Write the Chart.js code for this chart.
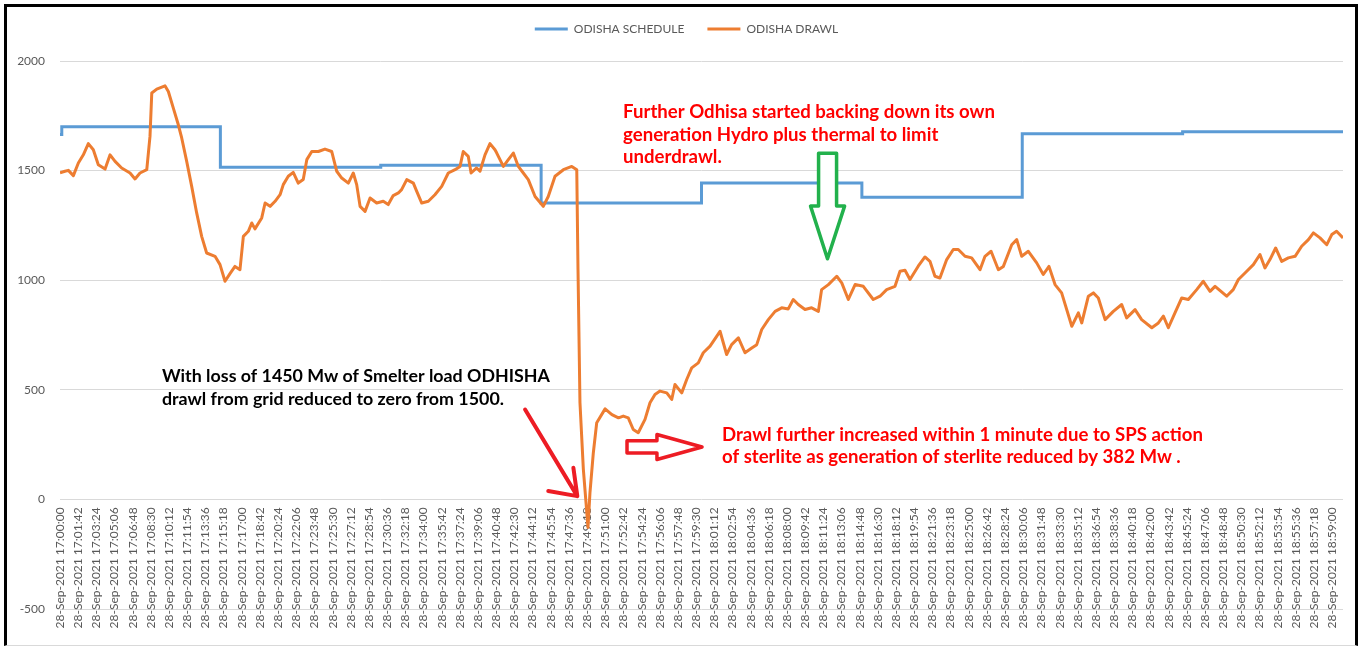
<!DOCTYPE html>
<html>
<head>
<meta charset="utf-8">
<title>Odisha schedule x drawl</title>
<script src="https://cdn.jsdelivr.net/npm/chart.js@4.4.0/dist/chart.umd.min.js"></script>
<style>
    html, body { margin: 0; padding: 0; background: #fff; }
    #wrap { position: relative; width: 1365px; height: 647px; }
    #grafico { position: absolute; left: 0; top: 0; }
    #frame { position: absolute; left: 4px; top: 4px; width: 1354px; height: 642px; box-sizing: border-box;
             border: 3px solid #000; border-bottom: 1px solid #d9d9d9; pointer-events: none; }
</style>
</head>
<body>
<div id="wrap">
    <canvas id="grafico" width="1365" height="647"></canvas>
    <div id="frame"></div>
</div>
<script>
// segundos a partir de 28-Sep-2021 17:00:00
const scheduleSec = [0, 10, 900, 1800, 2700, 3600, 4500, 5400, 6300, 7200];
const scheduleMW  = [1665, 1700, 1515, 1524, 1352, 1443, 1378, 1668, 1677, 1677];

const drawlSec = [
    0, 28, 47, 75, 103, 131, 159, 187, 215, 253, 281, 309, 346, 393, 421, 449, 487, 505, 515, 543,
    589, 608, 636, 664, 683, 711, 739, 767, 795, 823, 870, 898, 926, 954, 982, 1010, 1029, 1057, 1076, 1094,
    1132, 1151, 1179, 1207, 1235, 1253, 1281, 1309, 1337, 1365, 1385, 1413, 1450, 1487, 1525, 1553, 1581, 1618, 1646, 1665,
    1684, 1712, 1740, 1777, 1814, 1842, 1870, 1899, 1917, 1946, 1983, 2002, 2030, 2067, 2104, 2142, 2179, 2217, 2245, 2263,
    2291, 2307, 2338, 2357, 2385, 2413, 2441, 2451, 2488, 2516, 2544, 2572, 2600, 2628, 2666, 2712, 2740, 2778, 2825, 2872,
    2900, 2907, 2918, 2937, 2963, 2974, 2993, 3012, 3059, 3097, 3134, 3161, 3189, 3217, 3245, 3283, 3311, 3339, 3367, 3405,
    3433, 3451, 3489, 3517, 3545, 3582, 3610, 3648, 3685, 3704, 3741, 3769, 3807, 3844, 3882, 3910, 3938, 3975, 4013, 4050,
    4087, 4115, 4143, 4181, 4218, 4256, 4274, 4312, 4359, 4387, 4424, 4462, 4508, 4564, 4602, 4639, 4686, 4714, 4742, 4770,
    4817, 4854, 4882, 4910, 4938, 4976, 5013, 5041, 5079, 5116, 5163, 5191, 5225, 5266, 5294, 5341, 5369, 5397, 5434, 5481,
    5518, 5550, 5584, 5621, 5678, 5715, 5734, 5771, 5799, 5827, 5865, 5911, 5958, 5986, 6033, 6070, 6127, 6164, 6192, 6220,
    6257, 6295, 6332, 6379, 6416, 6454, 6482, 6547, 6584, 6613, 6650, 6697, 6734, 6762, 6790, 6822, 6856, 6893, 6931, 6968,
    7006, 7034, 7071, 7109, 7137, 7164, 7200
];
const drawlMW = [
    1490, 1497, 1501, 1477, 1535, 1572, 1623, 1595, 1527, 1507, 1572, 1542, 1512, 1489, 1462, 1489, 1504, 1656, 1854, 1872,
    1887, 1861, 1785, 1709, 1649, 1542, 1428, 1307, 1200, 1124, 1109, 1071, 995, 1030, 1063, 1048, 1200, 1223, 1261, 1234,
    1284, 1352, 1337, 1360, 1390, 1436, 1474, 1492, 1443, 1459, 1550, 1587, 1587, 1598, 1587, 1497, 1466, 1443, 1489, 1436,
    1337, 1314, 1375, 1352, 1360, 1345, 1386, 1398, 1413, 1459, 1443, 1405, 1352, 1360, 1390, 1428, 1489, 1504, 1519, 1587,
    1565, 1489, 1512, 1497, 1572, 1623, 1595, 1580, 1519, 1550, 1580, 1519, 1489, 1459, 1382, 1337, 1382, 1474, 1504, 1519,
    1504, 1048, 441, 137, -128, 30, 213, 350, 413, 387, 372, 380, 372, 319, 304, 365, 441, 479, 494, 486,
    456, 524, 486, 547, 600, 623, 669, 699, 744, 767, 661, 706, 737, 669, 691, 706, 775, 820, 858, 874,
    869, 912, 889, 866, 874, 858, 957, 980, 1018, 988, 912, 980, 972, 912, 927, 957, 972, 1041, 1045, 1003,
    1065, 1106, 1086, 1018, 1010, 1094, 1140, 1140, 1109, 1102, 1048, 1109, 1132, 1048, 1063, 1162, 1185, 1109, 1132, 1079,
    1026, 1063, 980, 942, 790, 851, 805, 927, 942, 919, 820, 858, 889, 828, 866, 820, 783, 805, 836, 783,
    851, 919, 912, 957, 995, 949, 972, 927, 957, 1003, 1033, 1071, 1117, 1056, 1094, 1147, 1086, 1102, 1109, 1155,
    1185, 1216, 1193, 1162, 1208, 1223, 1193
];

// rótulos do eixo x: a cada 1 min 42 s
const tickSec = [];
for (let s = 0; s <= 7140; s += 102) tickSec.push(s);

const fonte = 'Lato, "Open Sans", sans-serif';
const cinza = '#595959';

function hora(seg) {
    const total = 17 * 3600 + seg;
    const h = Math.floor(total / 3600);
    const m = Math.floor((total % 3600) / 60);
    const s = total % 60;
    return [h, m, s].map(n => String(n).padStart(2, '0')).join(':');
}

// anotações desenhadas por cima do gráfico (coordenadas em segundos / MW)
const textos = [
    { linhas: ['With loss of 1450 Mw of Smelter load ODHISHA', 'drawl from grid reduced to zero from 1500.'],
      cor: '#000000', t: 572, v: 561, largura: 388, passo: 23 },
    { linhas: ['Further Odhisa started backing down its own', 'generation Hydro plus thermal to limit', 'underdrawl.'],
      cor: '#FF0000', t: 3160, v: 1768, largura: 372, passo: 22.7 },
    { linhas: ['Drawl further increased within 1 minute due to SPS action', 'of sterlite as generation of sterlite reduced by 382 Mw .'],
      cor: '#FF0000', t: 3715, v: 296, largura: 481, passo: 22.5 }
];

const anotacoes = {
    id: 'anotacoes',
    beforeInit(chart) {
        const fit = chart.legend.fit;
        chart.legend.fit = function () {
            fit.bind(chart.legend)();
            this.height = 61;
        };
    },
    afterLayout(chart) {
        chart.legend.left += 13;
        chart.legend.right += 13;
    },
    afterDraw(chart) {
        const { ctx, scales: { x, y } } = chart;
        const px = t => x.getPixelForValue(t);
        const py = v => y.getPixelForValue(v);
        ctx.save();

        textos.forEach(n => {
            ctx.font = `bold 20px ${fonte}`;
            const w = Math.max(...n.linhas.map(l => ctx.measureText(l).width));
            ctx.font = `bold ${(20 * n.largura / w).toFixed(2)}px ${fonte}`;
            ctx.fillStyle = n.cor;
            ctx.textAlign = 'left';
            ctx.textBaseline = 'middle';
            n.linhas.forEach((l, i) => ctx.fillText(l, px(n.t), py(n.v) + i * n.passo));
        });

        // seta vermelha fina (queda do drawl)
        ctx.strokeStyle = '#ED1C24';
        ctx.lineWidth = 4;
        ctx.lineCap = 'round';
        ctx.beginPath();
        ctx.moveTo(px(2610), py(410)); ctx.lineTo(px(2903), py(15));
        ctx.moveTo(px(2740), py(38)); ctx.lineTo(px(2903), py(15));
        ctx.moveTo(px(2881), py(144)); ctx.lineTo(px(2903), py(15));
        ctx.stroke();

        // setas de bloco (contorno colorido, miolo branco)
        const bloco = (pts, cor) => {
            ctx.beginPath();
            pts.forEach(([t, v], i) => i ? ctx.lineTo(px(t), py(v)) : ctx.moveTo(px(t), py(v)));
            ctx.closePath();
            ctx.fillStyle = '#fff';
            ctx.fill();
            ctx.strokeStyle = cor;
            ctx.lineWidth = 3.5;
            ctx.lineJoin = 'round';
            ctx.stroke();
        };
        bloco([[3182, 267], [3350, 267], [3350, 296], [3603, 239], [3350, 182], [3350, 212], [3182, 212]], '#ED1C24');
        bloco([[4257, 1579], [4358, 1579], [4358, 1338], [4403, 1338], [4307, 1098], [4212, 1338], [4257, 1338]], '#22B14C');

        ctx.restore();
    }
};

new Chart(document.getElementById('grafico').getContext('2d'), {
    type: 'line',
    data: {
        datasets: [{
            label: 'ODISHA SCHEDULE',
            data: scheduleSec.map((t, i) => ({ x: t, y: scheduleMW[i] })),
            borderColor: '#5B9BD5',
            backgroundColor: '#5B9BD5',
            borderWidth: 3,
            pointRadius: 0,
            stepped: 'before',
            order: 2
        }, {
            label: 'ODISHA DRAWL',
            data: drawlSec.map((t, i) => ({ x: t, y: drawlMW[i] })),
            borderColor: '#ED7D31',
            backgroundColor: '#ED7D31',
            borderWidth: 3,
            pointRadius: 0,
            tension: 0,
            borderJoinStyle: 'round',
            order: 1
        }]
    },
    options: {
        responsive: false,
        animation: false,
        layout: { padding: { left: 4, right: 22, top: 0, bottom: 38 } },
        plugins: {
            tooltip: { enabled: false },
            legend: {
                position: 'top',
                labels: {
                    color: cinza,
                    font: { family: fonte, size: 12 },
                    boxWidth: 33,
                    boxHeight: 3,
                    padding: 23,
                    sort: (a, b) => a.datasetIndex - b.datasetIndex,
                    generateLabels(chart) {
                        const itens = Chart.defaults.plugins.legend.labels.generateLabels(chart);
                        itens.forEach(it => { it.lineWidth = 0; it.fillStyle = it.strokeStyle; });
                        return itens;
                    }
                }
            }
        },
        scales: {
            x: {
                type: 'linear',
                position: { y: 0 },
                min: 0,
                max: 7200,
                afterBuildTicks: s => { s.ticks = tickSec.map(v => ({ value: v })); },
                grid: { display: false, drawTicks: false },
                border: { display: false },
                ticks: {
                    autoSkip: false,
                    minRotation: 90,
                    maxRotation: 90,
                    padding: 8,
                    color: cinza,
                    font: { family: fonte, size: 12 },
                    callback: v => '28-Sep-2021 ' + hora(v)
                }
            },
            y: {
                min: -500,
                max: 2000,
                afterFit: s => { s.width = 56; },
                grid: { color: '#D9D9D9', lineWidth: 1, drawTicks: false },
                border: { display: false },
                ticks: {
                    stepSize: 500,
                    padding: 15,
                    color: cinza,
                    font: { family: fonte, size: 12 },
                    callback: v => String(v)
                }
            }
        }
    },
    plugins: [anotacoes]
});
</script>
</body>
</html>
